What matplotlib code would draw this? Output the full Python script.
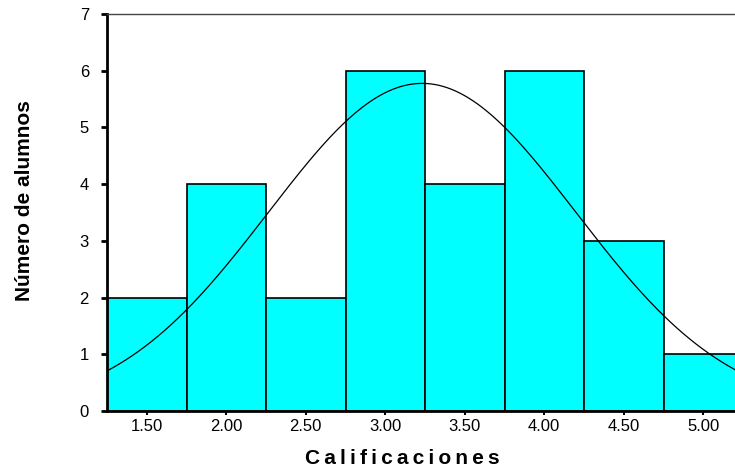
import matplotlib
matplotlib.use("Agg")
import matplotlib.pyplot as plt
import numpy as np

plt.rcParams['font.family'] = ['Liberation Sans', 'DejaVu Sans']

# class midpoints of the grades and number of students in each
midpoints = [1.5, 2.0, 2.5, 3.0, 3.5, 4.0, 4.5, 5.0]
counts = [2, 4, 2, 6, 4, 6, 3, 1]
tick_labels = ["1.50", "2.00", "2.50", "3.00", "3.50", "4.00", "4.50", "5.00"]
width = 0.5

fig = plt.figure(figsize=(7.35, 4.69), dpi=100)
ax = fig.add_axes([107/735, 1 - 411/469, (743 - 107)/735, (411 - 14)/469])

ax.bar(midpoints, counts, width=width, color="#00ffff", edgecolor="black", linewidth=1.2)

# normal curve fitted to the grouped data
vals = np.repeat(midpoints, counts)
mu = vals.mean()
sd = vals.std(ddof=1)
xs = np.linspace(1.25, 5.25, 300)
ys = len(vals) * width * np.exp(-0.5 * ((xs - mu) / sd) ** 2) / (sd * np.sqrt(2 * np.pi))
ax.plot(xs, ys, color="black", linewidth=0.9)

ax.set_xlim(1.25, 5.25)
ax.set_ylim(0, 7)
ax.set_xticks(midpoints)
ax.set_xticklabels(tick_labels, fontsize=12)
ax.set_yticks(range(8))
ax.tick_params(axis="y", direction="out", length=4, width=2, labelsize=12, pad=9)
ax.tick_params(axis="x", direction="out", length=3, width=1.5, labelsize=12, pad=3)

for side in ["left", "bottom"]:
    ax.spines[side].set_linewidth(2)
ax.spines["top"].set_linewidth(1)
ax.spines["top"].set_color("#444444")
ax.spines["right"].set_visible(False)

ax.set_xlabel("\u2009".join("Calificaciones"), fontsize=15, fontweight="bold", labelpad=12)
ax.xaxis.set_label_coords(0.465, -0.095)
ax.set_ylabel("Número de alumnos", fontsize=15, fontweight="bold")
ax.yaxis.set_label_coords(-0.114, 0.53)

fig.savefig("out.png", dpi=100)
